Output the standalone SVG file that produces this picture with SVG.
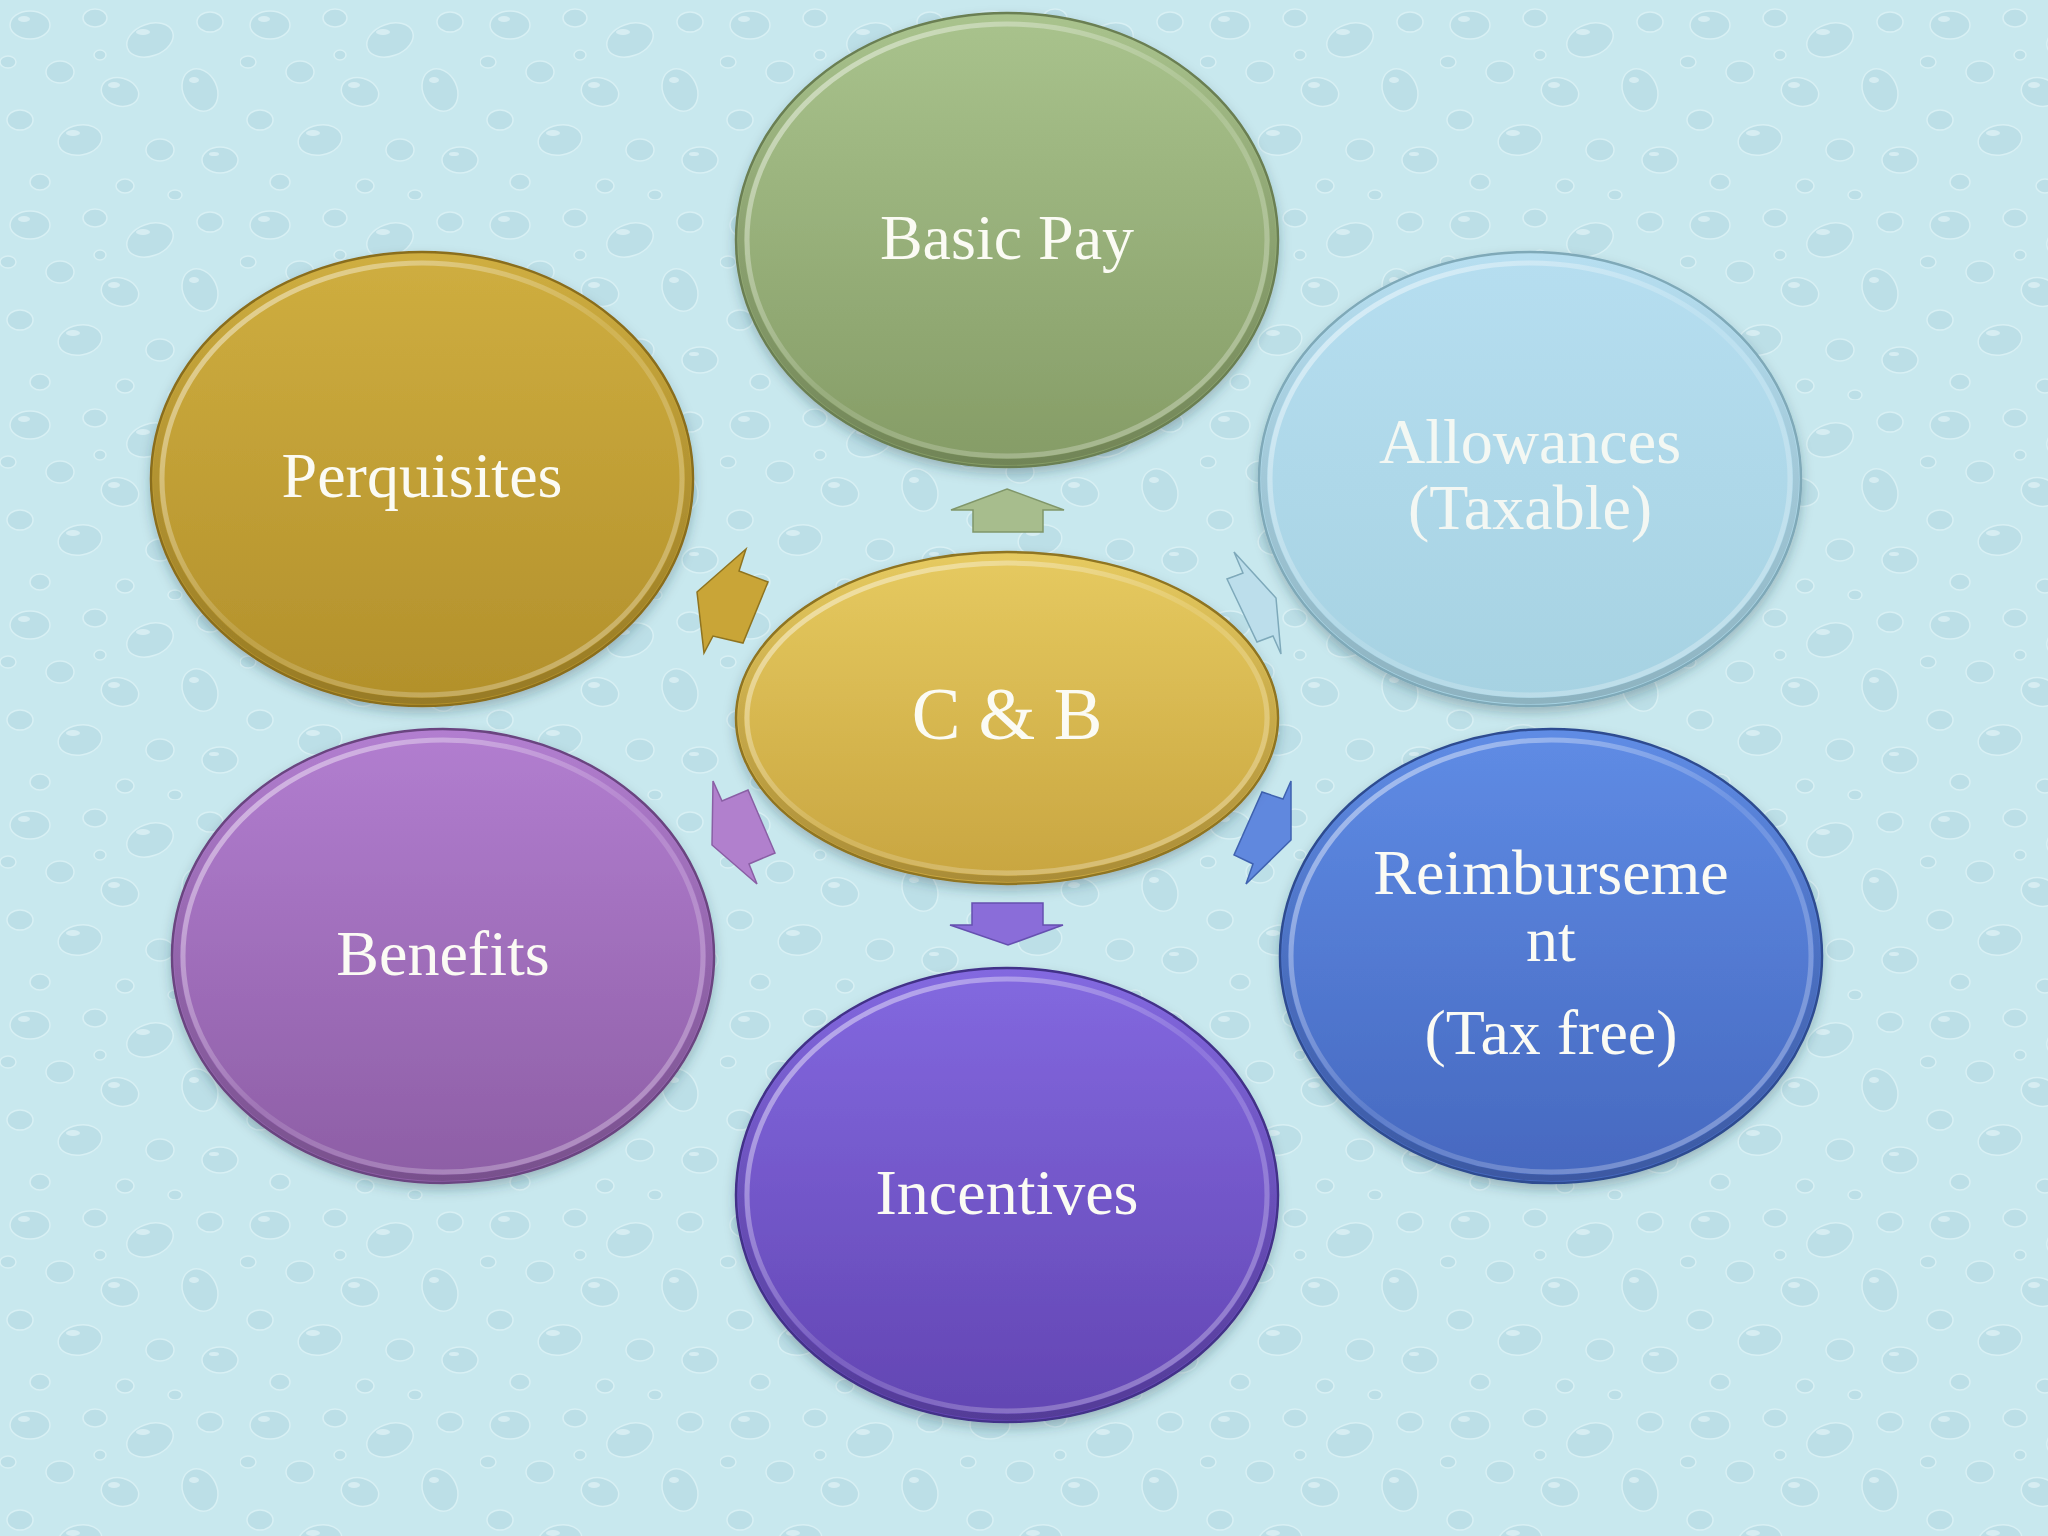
<svg xmlns="http://www.w3.org/2000/svg" width="2048" height="1536" viewBox="0 0 2048 1536">
<defs>
  <pattern id="drops" x="0" y="0" width="240" height="200" patternUnits="userSpaceOnUse">
    <rect width="240" height="200" fill="#c8e8ee"/>
    <g fill="#bcdfe7" stroke="#d8f0f4" stroke-width="1.5">
      <ellipse cx="30" cy="25" rx="20" ry="14"/>
      <ellipse cx="95" cy="18" rx="12" ry="9"/>
      <ellipse cx="150" cy="40" rx="24" ry="16" transform="rotate(-20 150 40)"/>
      <ellipse cx="210" cy="22" rx="13" ry="10"/>
      <ellipse cx="60" cy="72" rx="14" ry="11"/>
      <ellipse cx="120" cy="92" rx="19" ry="14" transform="rotate(15 120 92)"/>
      <ellipse cx="200" cy="90" rx="17" ry="22" transform="rotate(-25 200 90)"/>
      <ellipse cx="20" cy="120" rx="13" ry="10"/>
      <ellipse cx="80" cy="140" rx="22" ry="15" transform="rotate(-10 80 140)"/>
      <ellipse cx="160" cy="150" rx="14" ry="11"/>
      <ellipse cx="220" cy="160" rx="18" ry="13"/>
      <ellipse cx="40" cy="182" rx="10" ry="8"/>
      <ellipse cx="125" cy="186" rx="9" ry="7"/>
      <ellipse cx="8" cy="62" rx="8" ry="6"/>
      <ellipse cx="175" cy="195" rx="7" ry="5"/>
      <ellipse cx="100" cy="55" rx="6" ry="5"/>
    </g>
    <g fill="#e8f7fa" opacity="0.6">
      <ellipse cx="24" cy="19" rx="6" ry="3"/>
      <ellipse cx="143" cy="32" rx="7" ry="3"/>
      <ellipse cx="114" cy="85" rx="6" ry="3"/>
      <ellipse cx="73" cy="133" rx="7" ry="3"/>
      <ellipse cx="194" cy="80" rx="5" ry="3"/>
      <ellipse cx="214" cy="154" rx="5" ry="2"/>
    </g>
  </pattern>
  <filter id="shadow" x="-10%" y="-10%" width="120%" height="125%">
    <feGaussianBlur in="SourceAlpha" stdDeviation="6"/>
    <feOffset dx="0" dy="6" result="b"/>
    <feFlood flood-color="#1f3a44" flood-opacity="0.28"/>
    <feComposite in2="b" operator="in"/>
    <feMerge><feMergeNode/><feMergeNode in="SourceGraphic"/></feMerge>
  </filter>
  <linearGradient id="gGreen" x1="0" y1="0" x2="0" y2="1"><stop offset="0" stop-color="#a9c38d"/><stop offset="1" stop-color="#859c66"/></linearGradient>
  <linearGradient id="gGold" x1="0" y1="0" x2="0" y2="1"><stop offset="0" stop-color="#cfae40"/><stop offset="1" stop-color="#b2902b"/></linearGradient>
  <linearGradient id="gSky" x1="0" y1="0" x2="0" y2="1"><stop offset="0" stop-color="#b6def0"/><stop offset="1" stop-color="#a6d2e2"/></linearGradient>
  <linearGradient id="gYellow" x1="0" y1="0" x2="0" y2="1"><stop offset="0" stop-color="#e6ca60"/><stop offset="1" stop-color="#c8a540"/></linearGradient>
  <linearGradient id="gViolet" x1="0" y1="0" x2="0" y2="1"><stop offset="0" stop-color="#b27ed0"/><stop offset="1" stop-color="#8d5ea5"/></linearGradient>
  <linearGradient id="gBlue" x1="0" y1="0" x2="0" y2="1"><stop offset="0" stop-color="#5f8ce5"/><stop offset="1" stop-color="#4668bf"/></linearGradient>
  <linearGradient id="gIndigo" x1="0" y1="0" x2="0" y2="1"><stop offset="0" stop-color="#8369e0"/><stop offset="1" stop-color="#6245b2"/></linearGradient>
  <linearGradient id="rim" x1="0" y1="0" x2="1" y2="1"><stop offset="0" stop-color="#ffffff" stop-opacity="0.55"/><stop offset="0.5" stop-color="#ffffff" stop-opacity="0.12"/><stop offset="1" stop-color="#ffffff" stop-opacity="0.35"/></linearGradient>
  <linearGradient id="rimDark" x1="0" y1="0" x2="0" y2="1"><stop offset="0" stop-color="#000000" stop-opacity="0"/><stop offset="1" stop-color="#000000" stop-opacity="0.15"/></linearGradient>
</defs>
<style>
  .node { filter: url(#shadow); }
  .rim { fill: none; stroke: url(#rim); stroke-width: 5; }
  .rim2 { fill: none; stroke: url(#rimDark); stroke-width: 6; }
  .lbl { font-family: "Liberation Serif", "Times New Roman", serif; font-size: 64px; fill: #fbfbf4; text-anchor: middle; }
  .arrow { stroke-width: 1.5; stroke-linejoin: miter; }
</style>

<rect width="2048" height="1536" fill="url(#drops)"/>

<g id="connectors">
  <polygon class="arrow" fill="#a7bd8d" stroke="#809669" points="1007,489 1064,510 1043,510 1043,532 973,532 973,510 951,510"/>
  <polygon class="arrow" fill="#8a6dd9" stroke="#6650b0" points="972,903 1043,903 1043,925 1063,925 1008,945 950,925 972,925"/>
  <polygon class="arrow" fill="#c9a537" stroke="#8f7420" points="746,549 739,571 768,582 743,643 713,636 704,653 697,592"/>
  <polygon class="arrow" fill="#bcdeeb" stroke="#7ea9ba" points="1234,552 1276,598 1281,654 1273,636 1257,642 1227,579 1243,573"/>
  <polygon class="arrow" fill="#b180cd" stroke="#8a5fa5" points="713,781 722,801 748,790 775,853 749,864 757,884 712,845"/>
  <polygon class="arrow" fill="#6088de" stroke="#3f62b0" points="1291,781 1283,799 1262,792 1234,855 1253,864 1246,884 1291,840"/>
</g>

<g id="node-basic-pay" class="node">
  <ellipse cx="1007" cy="240" rx="271" ry="227" fill="url(#gGreen)" stroke="#6b7f52" stroke-width="2.5"/>
  <ellipse class="rim2" cx="1007" cy="240" rx="266" ry="222"/>
  <ellipse class="rim" cx="1007" cy="240" rx="260" ry="216"/>
  <text class="lbl" x="1007" y="259">Basic Pay</text>
</g>

<g id="node-perquisites" class="node">
  <ellipse cx="422" cy="479" rx="271" ry="227" fill="url(#gGold)" stroke="#8a6e1e" stroke-width="2.5"/>
  <ellipse class="rim2" cx="422" cy="479" rx="266" ry="222"/>
  <ellipse class="rim" cx="422" cy="479" rx="260" ry="216"/>
  <text class="lbl" x="422" y="497">Perquisites</text>
</g>

<g id="node-allowances" class="node">
  <ellipse cx="1530" cy="479" rx="271" ry="227" fill="url(#gSky)" stroke="#7fa9b8" stroke-width="2.5"/>
  <ellipse class="rim2" cx="1530" cy="479" rx="266" ry="222"/>
  <ellipse class="rim" cx="1530" cy="479" rx="260" ry="216"/>
  <text class="lbl" x="1530" y="463" fill-opacity="0.9">Allowances</text>
  <text class="lbl" x="1530" y="529" fill-opacity="0.9">(Taxable)</text>
</g>

<g id="node-cb" class="node">
  <ellipse cx="1007" cy="718" rx="271" ry="166" fill="url(#gYellow)" stroke="#8f7420" stroke-width="2.5"/>
  <ellipse class="rim2" cx="1007" cy="718" rx="266" ry="161"/>
  <ellipse class="rim" cx="1007" cy="718" rx="260" ry="155"/>
  <text class="lbl" x="1007" y="739" style="font-size:73px">C &amp; B</text>
</g>

<g id="node-benefits" class="node">
  <ellipse cx="443" cy="956" rx="271" ry="227" fill="url(#gViolet)" stroke="#6a4480" stroke-width="2.5"/>
  <ellipse class="rim2" cx="443" cy="956" rx="266" ry="222"/>
  <ellipse class="rim" cx="443" cy="956" rx="260" ry="216"/>
  <text class="lbl" x="443" y="975">Benefits</text>
</g>

<g id="node-reimbursement" class="node">
  <ellipse cx="1551" cy="956" rx="271" ry="227" fill="url(#gBlue)" stroke="#2e4c90" stroke-width="2.5"/>
  <ellipse class="rim2" cx="1551" cy="956" rx="266" ry="222"/>
  <ellipse class="rim" cx="1551" cy="956" rx="260" ry="216"/>
  <text class="lbl" x="1551" y="894">Reimburseme</text>
  <text class="lbl" x="1551" y="961">nt</text>
  <text class="lbl" x="1551" y="1054">(Tax free)</text>
</g>

<g id="node-incentives" class="node">
  <ellipse cx="1007" cy="1195" rx="271" ry="227" fill="url(#gIndigo)" stroke="#433088" stroke-width="2.5"/>
  <ellipse class="rim2" cx="1007" cy="1195" rx="266" ry="222"/>
  <ellipse class="rim" cx="1007" cy="1195" rx="260" ry="216"/>
  <text class="lbl" x="1007" y="1214">Incentives</text>
</g>
</svg>
